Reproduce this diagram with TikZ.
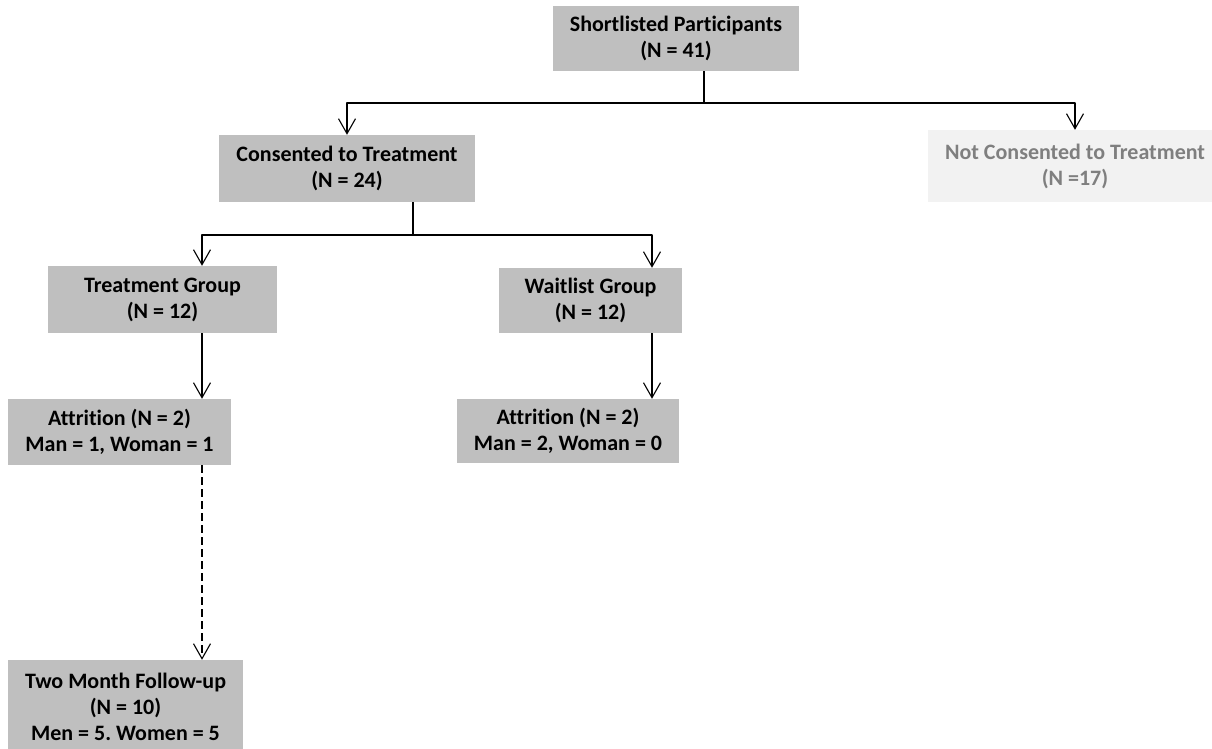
\documentclass[tikz,border=0pt]{standalone}
\usepackage{fontspec}
\setmainfont{Carlito}[RawFeature=-liga]
\usetikzlibrary{arrows.meta}
\frenchspacing

\definecolor{boxgray}{HTML}{BFBFBF}
\definecolor{palegray}{HTML}{F2F2F2}
\definecolor{textgray}{HTML}{7F7F7F}

\tikzset{
    box/.style={fill=boxgray, inner sep=0pt, align=center, font={\bfseries\fontsize{22}{26}\selectfont}},
    faintbox/.style={box, fill=palegray, text=textgray},
    link/.style={->, line width=1.1pt},
}

\begin{document}
\begin{tikzpicture}[x=1pt, y=-1pt, line join=round, >={Straight Barb[length=15pt, width=17pt]}]

    \useasboundingbox (0,0) rectangle (1212,749);

    % boxes
    \node[box, minimum width=246pt, minimum height=65pt] (short) at (676,38.5) {Shortlisted Participants\\(N = 41)};
    \node[box, minimum width=256pt, minimum height=67pt] (cons) at (347,168.5) {Consented to Treatment\\(N = 24)};
    \node[faintbox, minimum width=294pt, minimum height=72pt] (notc) at (1075,166) {Not Consented to Treatment\\(N =17)};
    \node[box, minimum width=229pt, minimum height=67pt] (treat) at (162.5,299.5) {Treatment Group\\(N = 12)};
    \node[box, minimum width=183pt, minimum height=65pt] (wait) at (590.5,300.5) {Waitlist Group\\(N = 12)};
    \node[box, minimum width=223pt, minimum height=66pt] (att1) at (119.5,432) {Attrition (N = 2)\\Man = 1, Woman = 1};
    \node[box, minimum width=222pt, minimum height=64pt] (att2) at (568,431) {Attrition (N = 2)\\Man = 2, Woman = 0};
    \node[box, minimum width=235pt, minimum height=94pt] (follow) at (125.5,707) {Two Month Follow-up\\(N = 10)\\Men = 5. Women = 5};

    % split points
    \coordinate (j1) at (704,103);
    \coordinate (j2) at (413,235);
    \coordinate (c1) at (202,0);
    \coordinate (c2) at (652,0);

    % connectors
    \draw[line width=1.1pt] (short.south -| j1) -- (j1);
    \draw[link] (j1) -| (cons);
    \draw[link] (j1) -| (notc);

    \draw[line width=1.1pt] (cons.south -| j2) -- (j2);
    \draw[link] (j2) -| (treat.north -| c1);
    \draw[link] (j2) -| (wait.north -| c2);

    \draw[link] (treat.south -| c1) -- (att1.north -| c1);
    \draw[link] (wait.south -| c2) -- (att2.north -| c2);
    \draw[link, dash pattern=on 8pt off 4pt] (att1.south -| c1) -- (follow.north -| c1);

\end{tikzpicture}
\end{document}
